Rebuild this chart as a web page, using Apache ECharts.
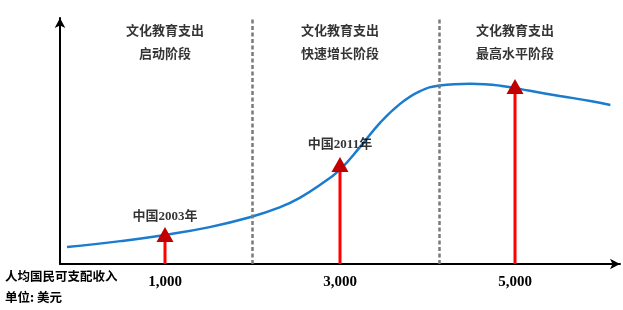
<!DOCTYPE html>
<html>
<head>
<meta charset="utf-8">
<script src="https://cdn.jsdelivr.net/npm/echarts@6/dist/echarts.min.js"></script>
<style>html,body{margin:0;padding:0;background:#fff;}#c{width:623px;height:310px;}</style>
</head>
<body>
<div id="c"></div>
<script>
// Curve: per-capita disposable income (USD) vs. relative education spending level
const incomeX = [-120, 490, 1000, 1510, 1970, 2310, 2540, 2770, 3000, 3230, 3460, 3690, 3910, 4140, 4490, 4830, 5170, 5510, 5860, 6090];
const curveY  = [6.9, 9.3, 11.8, 15.0, 19.0, 23.0, 26.9, 32.1, 38.4, 47.6, 57.5, 65.2, 70.2, 72.6, 73.3, 72.5, 70.4, 68.3, 66.3, 64.6];
const arrowX = [1000, 3000, 5000];
const arrowTipY = [15.0, 43.5, 75.2];
const dividerX = [2000, 4130];
const tickValues = [1000, 3000, 5000];
const stageTitle = '文化教育支出';
const stageNames = ['启动阶段', '快速增长阶段', '最高水平阶段'];
const pointLabels = ['中国2003年', '中国2011年'];
const pointLabelX = [1000, 3000];
const pointLabelY = [19.1, 48.4];
const axisNameLine1 = '人均国民可支配收入';
const axisNameLine2 = '单位: 美元';

const FONT = "'Liberation Serif', 'Noto Sans CJK SC', serif";
const chart = echarts.init(document.getElementById('c'));

const series = [];
series.push({
  type: 'line',
  data: incomeX.map((x, i) => [x, curveY[i]]),
  smooth: 0.45,
  showSymbol: false,
  lineStyle: { color: '#1a7bcf', width: 2.5 },
  z: 3,
  markLine: {
    silent: true,
    symbol: ['none', 'none'],
    label: { show: false },
    lineStyle: { color: '#7a7a7a', width: 2.5, type: [4, 2.5] },
    data: dividerX.map(x => ({ xAxis: x }))
  }
});
arrowX.forEach((x, i) => {
  series.push({
    type: 'line',
    data: [[x, 0], [x, arrowTipY[i] - 4]],
    showSymbol: false,
    lineStyle: { color: '#ff0000', width: 3 },
    z: 4
  });
});
series.push({
  type: 'scatter',
  data: arrowX.map((x, i) => [x, arrowTipY[i]]),
  symbol: 'triangle',
  symbolSize: [17, 15],
  symbolOffset: [0, '50%'],
  itemStyle: { color: '#c00000', opacity: 1 },
  z: 5
});
// stage headers
series.push({
  type: 'scatter',
  data: arrowX.map((x, i) => ({ value: [x, 89.6], name: stageNames[i] })),
  symbolSize: 0,
  label: {
    show: true, position: 'inside',
    formatter: p => stageTitle + '\n' + p.name,
    fontFamily: FONT, fontWeight: 'bold', fontSize: 13, lineHeight: 23, color: '#000'
  },
  z: 6
});
// point labels
series.push({
  type: 'scatter',
  data: pointLabelX.map((x, i) => ({ value: [x, pointLabelY[i]], name: pointLabels[i] })),
  symbolSize: 0,
  label: {
    show: true, position: 'inside',
    formatter: p => p.name,
    fontFamily: FONT, fontWeight: 'bold', fontSize: 13, color: '#000'
  },
  z: 6
});

chart.setOption({
  animation: false,
  grid: { left: 60, right: 3, top: 18, bottom: 46, containLabel: false, outerBoundsMode: 'none' },
  xAxis: {
    type: 'value', min: -200, max: 6200,
    splitLine: { show: false },
    axisLine: { onZero: false, lineStyle: { color: '#000', width: 2 }, symbol: ['none', 'arrow'], symbolSize: [8, 10] },
    axisTick: { show: false },
    axisLabel: {
      customValues: tickValues,
      formatter: v => v.toLocaleString('en-US'),
      margin: 11, fontFamily: FONT, fontWeight: 'bold', fontSize: 15, color: '#000'
    }
  },
  yAxis: {
    type: 'value', min: 0, max: 100,
    splitLine: { show: false },
    axisLine: { show: true, onZero: false, lineStyle: { color: '#000', width: 2 }, symbol: ['none', 'arrow'], symbolSize: [8, 10] },
    axisTick: { show: false },
    axisLabel: { show: false }
  },
  graphic: [
    { type: 'text', left: 5, top: 270, style: { text: axisNameLine1, font: "bold 12.5px 'Noto Sans CJK SC'", fill: '#000' } },
    { type: 'text', left: 5, top: 291, style: { text: axisNameLine2, font: "bold 12.5px 'Noto Sans CJK SC'", fill: '#000' } }
  ],
  series: series
});
</script>
</body>
</html>
